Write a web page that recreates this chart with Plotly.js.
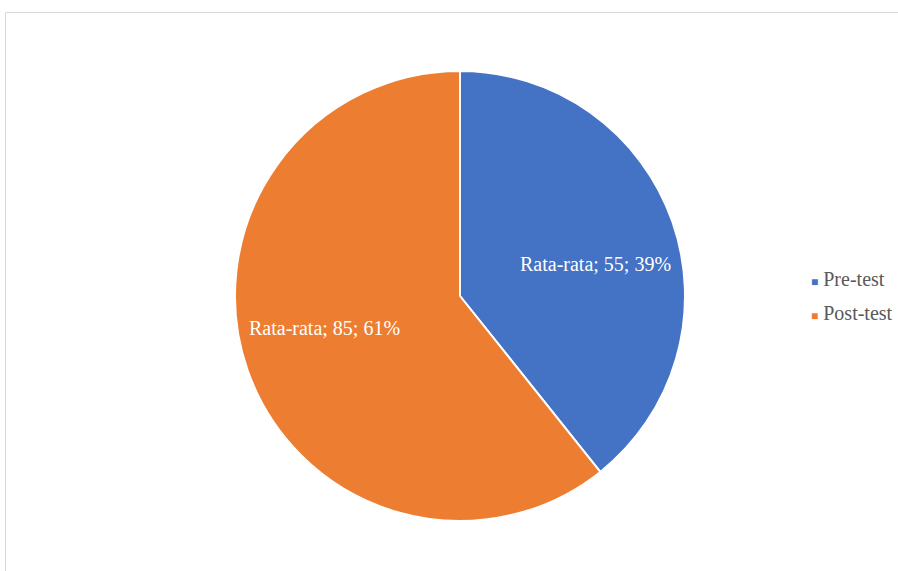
<!DOCTYPE html>
<html>
<head>
<meta charset="utf-8">
<script src="https://cdn.plot.ly/plotly-3.0.1.min.js"></script>
<style>html,body{margin:0;padding:0;background:#fff;}</style>
</head>
<body>
<div id="chart" style="width:898px;height:571px;"></div>
<script>
const categories = ["Pre-test", "Post-test"];
const seriesName = "Rata-rata";
const values = [55, 85];
const colors = ["#4472C4", "#ED7D31"];

const W = 898, H = 571;
const cx = 460, cy = 296, R = 225;

const pie = {
  type: "pie",
  labels: categories,
  values: values,
  sort: false,
  direction: "clockwise",
  rotation: 0,
  marker: { colors: colors, line: { color: "#ffffff", width: 2 } },
  textinfo: "none",
  hoverinfo: "label+value+percent",
  showlegend: false,
  domain: { x: [(cx - R) / W, (cx + R) / W], y: [1 - (cy + R) / H, 1 - (cy - R) / H] }
};

// data labels, placed from the data (slice mid-angle)
const total = values.reduce((a, b) => a + b, 0);
let cum = 0;
const labelAnn = values.map((v, i) => {
  const mid = (cum + v / 2) / total * 2 * Math.PI + 6 * Math.PI / 180;
  cum += v;
  const r = 0.62 * R;
  const px = cx + r * Math.sin(mid);
  const py = cy - r * Math.cos(mid);
  const pct = Math.round(v / total * 100);
  return {
    xref: "paper", yref: "paper", x: px / W, y: 1 - py / H,
    xanchor: "center", yanchor: "middle", showarrow: false,
    text: seriesName + "; " + v + "; " + pct + "%",
    font: { family: "Liberation Serif", size: 20, color: "#ffffff" }
  };
});

const legendAnn = categories.map((c, i) => ({
  xref: "paper", yref: "paper",
  x: 809 / W, y: 1 - (279 + i * 34) / H,
  xanchor: "left", yanchor: "middle",
  showarrow: false,
  text: '<span style="color:' + colors[i] + ';font-size:12px">■</span> ' + c,
  font: { family: "Liberation Serif", size: 20, color: "#595959" }
}));

const layout = {
  width: W, height: H,
  margin: { l: 0, r: 0, t: 0, b: 0 },
  paper_bgcolor: "#ffffff",
  showlegend: false,
  annotations: labelAnn.concat(legendAnn),
  shapes: [{
    type: "rect", xref: "paper", yref: "paper",
    x0: 5.5 / W, x1: 1.05, y0: -0.05, y1: 1 - 12.5 / H,
    line: { color: "#d9d9d9", width: 1 }, fillcolor: "rgba(0,0,0,0)"
  }]
};

Plotly.newPlot("chart", [pie], layout, { displayModeBar: false, staticPlot: true });
</script>
</body>
</html>
